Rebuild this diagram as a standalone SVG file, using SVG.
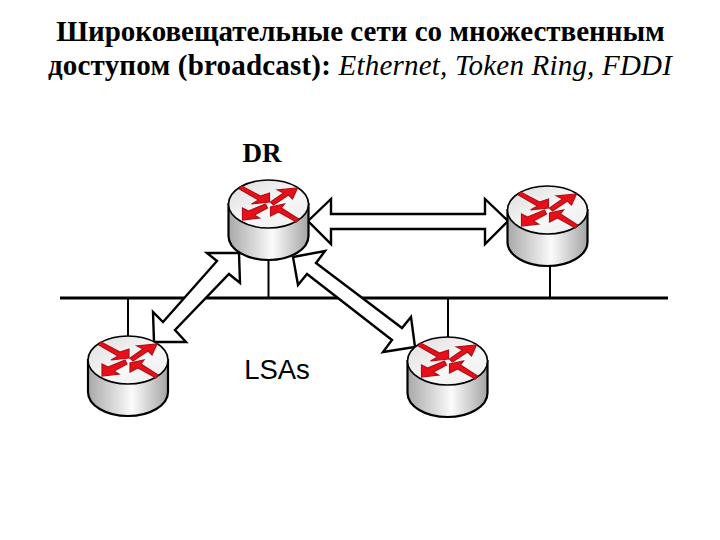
<svg xmlns="http://www.w3.org/2000/svg" width="720" height="540" viewBox="0 0 720 540">
<style>
.title{font-family:"Liberation Serif","Times New Roman",serif;font-size:29px;fill:#000;text-anchor:middle}
.b{font-weight:bold}
.i{font-style:italic}
.wire{stroke:#000;fill:none}
.dbl{fill:#fff;stroke:#000;stroke-width:2.4;stroke-linejoin:miter}
.body{fill:url(#bodyGrad);stroke:#000;stroke-width:2.2}
.top{fill:url(#topGrad);stroke:#000;stroke-width:1.6}
.red{fill:#e80f18;stroke:#b00f18;stroke-width:1.2;stroke-linejoin:miter}
</style>
<defs>
<linearGradient id="bodyGrad" x1="0" x2="1" y1="0" y2="0">
<stop offset="0" stop-color="#a8a8a8"/><stop offset=".55" stop-color="#fbfbfb"/><stop offset="1" stop-color="#a4a4a4"/>
</linearGradient>
<linearGradient id="topGrad" x1="0" x2="1" y1="0" y2="1">
<stop offset="0" stop-color="#dcdcdc"/><stop offset=".55" stop-color="#f8f8f8"/><stop offset="1" stop-color="#ececec"/>
</linearGradient>
<g id="router">
<path class="body" d="M-40 0V32A40 24 0 0 0 40 32V0Z"/>
<ellipse class="top" cx="0" cy="0" rx="40" ry="24"/>
<polygon class="red" points="-27,-18 -8,-8 1,-11 1,-2 -17,0 -10,-4 -29,-15"/>
<polygon class="red" points="29,-16 24,-5 20,-9 5,1 2,-2 15,-11 9,-14"/>
<polygon class="red" points="-26,16 -26,4 -20,7 -3,0 -1,4 -14,11 -9,14"/>
<polygon class="red" points="30,15 28,18 10,8 2,12 2,3 16,0 13,4"/>
</g>
</defs>
<rect width="720" height="540" fill="#fff"/>
<text class="title b" x="360.500" y="41">Широковещательные сети со множественным</text>
<text class="title" x="360" y="75" letter-spacing=".2"><tspan class="b">доступом (broadcast):</tspan> <tspan class="i">Ethernet, Token Ring, FDDI</tspan></text>
<g id="connectors">
<path class="wire" stroke-width="3" d="M60 298H668"/>
<path class="wire" stroke-width="2" d="M268.500 258V298M550 265V298M128 298V338M448 298V339"/>
<polygon class="dbl" points="308,221 331,199 331,214 485,214 485,199 508,221 485,244 485,229 331,229 331,244"/>
<polygon class="dbl" points="239,253 207,253 217,261 163,322 153,312 154,342 186,342 175,330 229,274 240,283"/>
<polygon class="dbl" points="293,257 325,251 316,263 402,328 411,317 415,347 383,352 392,340 307,274 298,285"/>
</g>
<g id="node-dr"><use href="#router" x="268.500" y="204"/><text x="262" y="162" font-family="Liberation Serif,serif" font-weight="bold" font-size="27" text-anchor="middle">DR</text></g>
<g id="node-right"><use href="#router" x="547.500" y="210"/></g>
<g id="node-left"><use href="#router" x="128" y="360"/></g>
<g id="node-bottom"><use href="#router" x="447.500" y="361"/></g>
<text x="277" y="379" font-family="Liberation Sans,Arial,sans-serif" font-size="27.500" text-anchor="middle">LSAs</text>
</svg>
